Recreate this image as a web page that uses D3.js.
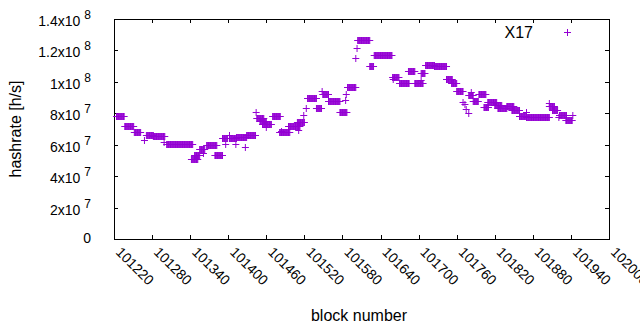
<!DOCTYPE html>
<html>
<head>
<meta charset="utf-8">
<script src="https://cdn.jsdelivr.net/npm/d3@7"></script>
<style>
  body { margin: 0; background: #fff; }
  svg { display: block; font-family: "Liberation Sans", Arial, sans-serif; }
  .axis path, .axis line { stroke: #000; shape-rendering: crispEdges; }
</style>
</head>
<body>
<div id="content"></div>
<script>
// runs of blocks that share the same hashrate estimate (h/s)
var runFirst = [101224, 101237, 101252, 101268, 101271, 101282, 101299, 101303, 101342, 101347,
  101355, 101361, 101366, 101379, 101391, 101396, 101402, 101402, 101412, 101413,
  101427, 101429, 101444, 101445, 101450, 101454, 101460, 101470, 101484, 101481,
  101495, 101511, 101509, 101519, 101523, 101525, 101539, 101548, 101549, 101558,
  101576, 101585, 101586, 101588, 101601, 101603, 101604, 101623, 101630, 101659,
  101660, 101670, 101684, 101694, 101704, 101704, 101711, 101725, 101744, 101744,
  101752, 101760, 101770, 101773, 101775, 101779, 101783, 101779, 101786, 101795,
  101803, 101809, 101820, 101825, 101839, 101847, 101859, 101870, 101870, 101906,
  101906, 101911, 101921, 101922, 101932, 101943];
var runLast = [101236, 101251, 101262, 101268, 101282, 101300, 101299, 101344, 101352, 101355,
  101363, 101361, 101382, 101391, 101399, 101396, 101402, 101413, 101412, 101429,
  101427, 101443, 101444, 101456, 101460, 101468, 101460, 101482, 101484, 101497,
  101513, 101511, 101520, 101519, 101523, 101539, 101547, 101548, 101558, 101576,
  101587, 101585, 101586, 101601, 101601, 101603, 101623, 101629, 101658, 101669,
  101660, 101685, 101694, 101707, 101704, 101710, 101725, 101744, 101744, 101753,
  101760, 101770, 101770, 101773, 101775, 101779, 101783, 101786, 101794, 101806,
  101810, 101823, 101831, 101839, 101850, 101859, 101870, 101870, 101906, 101906,
  101914, 101919, 101921, 101933, 101942, 101943];
var runRate = [78.5e6, 71.6e6, 68.2e6, 62.8e6, 66.2e6, 65.4e6, 61.7e6, 60.5e6, 51.2e6, 53.5e6,
  57.0e6, 54.5e6, 59.8e6, 53.5e6, 64.3e6, 60.5e6, 66.2e6, 64.0e6, 60.5e6, 64.6e6,
  58.4e6, 66.2e6, 81.0e6, 77.3e6, 75.1e6, 73.2e6, 71.5e6, 78.3e6, 68.7e6, 68.4e6,
  71.6e6, 69.4e6, 74.5e6, 79.2e6, 83.4e6, 89.5e6, 83.4e6, 94.4e6, 92.0e6, 88.1e6,
  81.1e6, 88.5e6, 92.3e6, 97.0e6, 115.0e6, 121.4e6, 126.4e6, 110.4e6, 116.8e6, 103.4e6,
  101.8e6, 99.0e6, 106.9e6, 99.3e6, 101.2e6, 105.6e6, 111.0e6, 109.8e6, 101.6e6, 101.8e6,
  99.3e6, 93.9e6, 87.5e6, 86.0e6, 82.5e6, 80.0e6, 93.7e6, 91.6e6, 87.8e6, 92.3e6,
  84.0e6, 86.9e6, 85.0e6, 83.4e6, 84.5e6, 81.8e6, 78.3e6, 81.0e6, 77.4e6, 86.4e6,
  84.6e6, 82.4e6, 77.8e6, 78.9e6, 75.7e6, 78.9e6];

var xTicks = [101220, 101280, 101340, 101400, 101460, 101520, 101580, 101640, 101700,
  101760, 101820, 101880, 101940, 102000];
var yTicks = [0, 2e7, 4e7, 6e7, 8e7, 1e8, 1.2e8, 1.4e8];
var yMantissa = ["0", "2x10", "4x10", "6x10", "8x10", "1x10", "1.2x10", "1.4x10"];
var yExponent = ["", "7", "7", "7", "7", "8", "8", "8"];
var seriesName = "X17";
var color = "#9400d3";

function render() {
  var width = 640, height = 330;
  var left = 114, right = 609, top = 19, bottom = 239;

  var svg = d3.select("div#content").append("svg")
    .attr("width", width)
    .attr("height", height);

  var x = d3.scaleLinear().domain([101220, 102000]).range([left, right]);
  var y = d3.scaleLinear().domain([0, 1.4e8]).range([bottom, top]);

  // one point per block
  var points = [];
  runFirst.forEach(function(f, i) {
    d3.range(f, runLast[i] + 1).forEach(function(b) {
      points.push({block: b, rate: runRate[i]});
    });
  });

  // ticks on all four sides, pointing inwards
  svg.append("g").attr("class", "axis")
    .attr("transform", "translate(0," + bottom + ")")
    .call(d3.axisBottom(x).tickValues(xTicks).tickSize(-4).tickSizeOuter(0).tickFormat(""));
  svg.append("g").attr("class", "axis")
    .attr("transform", "translate(0," + top + ")")
    .call(d3.axisTop(x).tickValues(xTicks).tickSize(-4).tickSizeOuter(0).tickFormat(""));
  svg.append("g").attr("class", "axis")
    .attr("transform", "translate(" + left + ",0)")
    .call(d3.axisLeft(y).tickValues(yTicks).tickSize(-4).tickSizeOuter(0).tickFormat(""));
  svg.append("g").attr("class", "axis")
    .attr("transform", "translate(" + right + ",0)")
    .call(d3.axisRight(y).tickValues(yTicks).tickSize(-4).tickSizeOuter(0).tickFormat(""));

  // y tick labels with superscript exponent
  var yl = svg.append("g")
    .selectAll("text")
    .data(yTicks)
    .enter().append("text")
    .attr("x", 91)
    .attr("y", function(d, i) { return y(d) + (i == 0 ? 4 : 7); })
    .attr("text-anchor", "end")
    .attr("font-size", "14px")
    .attr("fill", "#000");
  yl.append("tspan").text(function(d, i) { return yMantissa[i]; });
  yl.append("tspan")
    .attr("dx", "4")
    .attr("dy", "-7")
    .attr("font-size", "12px")
    .text(function(d, i) { return yExponent[i]; });

  // x tick labels, rotated
  svg.append("g")
    .selectAll("text")
    .data(xTicks)
    .enter().append("text")
    .attr("transform", function(d) {
      return "translate(" + (x(d) + 1) + "," + 253 + ") rotate(45)";
    })
    .attr("font-size", "14px")
    .attr("fill", "#000")
    .text(function(d) { return d; });

  svg.append("text")
    .attr("x", 359)
    .attr("y", 321)
    .attr("text-anchor", "middle")
    .attr("font-size", "16px")
    .text("block number");

  svg.append("text")
    .attr("transform", "translate(21," + ((top + bottom) / 2) + ") rotate(-90)")
    .attr("text-anchor", "middle")
    .attr("font-size", "16px")
    .text("hashrate [h/s]");

  // legend
  svg.append("text")
    .attr("x", 533)
    .attr("y", 38)
    .attr("text-anchor", "end")
    .attr("font-size", "16px")
    .text(seriesName);
  svg.append("path")
    .attr("transform", "translate(567.5,32.5)")
    .attr("d", "M-3.5,0H3.5M0,-3.5V3.5")
    .attr("stroke", color)
    .attr("stroke-width", 1)
    .attr("fill", "none");

  svg.append("g")
    .selectAll("path")
    .data(points)
    .enter().append("path")
    .attr("transform", function(d) {
      return "translate(" + x(d.block) + "," + (Math.round(y(d.rate)) + 0.5) + ")";
    })
    .attr("d", "M-3.5,0H3.5M0,-3.5V3.5")
    .attr("stroke", color)
    .attr("stroke-width", 1)
    .attr("fill", "none");
}

render();
</script>
</body>
</html>
